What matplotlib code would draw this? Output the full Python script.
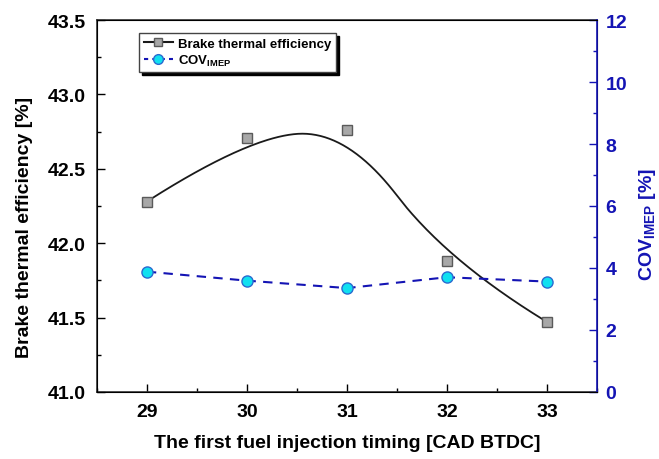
import numpy as np
import matplotlib
matplotlib.use("Agg")
import matplotlib.pyplot as plt
from matplotlib.ticker import MultipleLocator

plt.rcParams['font.family'] = ['Liberation Sans', 'DejaVu Sans']
plt.rcParams['font.weight'] = 'bold'
plt.rcParams['mathtext.fontset'] = 'custom'
plt.rcParams['mathtext.rm'] = 'Liberation Sans:bold'
plt.rcParams['mathtext.bf'] = 'Liberation Sans:bold'

# datos
timing = [29, 30, 31, 32, 33]
bte = [42.28, 42.71, 42.76, 41.88, 41.47]
cov_imep = [3.88, 3.59, 3.35, 3.70, 3.56]

azul = '#1414b4'


def bspline2(xs, ys, n=200):
    # B-spline cuadratica con nodos fijos en los extremos (como Origin)
    px = np.array(xs, dtype=float)
    py = np.array(ys, dtype=float)
    k = 2
    m = len(px)
    nodos = np.concatenate([np.zeros(k), np.arange(m - k + 1), np.full(k, m - k)]).astype(float)
    ts = np.linspace(0, m - k, n)
    ts[-1] -= 1e-9
    cx, cy = [], []
    for t in ts:
        N = np.zeros(len(nodos) - 1)
        for i in range(len(nodos) - 1):
            if nodos[i] <= t < nodos[i + 1]:
                N[i] = 1.0
        for d in range(1, k + 1):
            nuevo = np.zeros(len(nodos) - 1 - d)
            for i in range(len(nuevo)):
                a = 0.0
                b = 0.0
                if nodos[i + d] != nodos[i]:
                    a = (t - nodos[i]) / (nodos[i + d] - nodos[i]) * N[i]
                if nodos[i + d + 1] != nodos[i + 1]:
                    b = (nodos[i + d + 1] - t) / (nodos[i + d + 1] - nodos[i + 1]) * N[i + 1]
                nuevo[i] = a + b
            N = nuevo
        cx.append(np.dot(N, px))
        cy.append(np.dot(N, py))
    return np.array(cx), np.array(cy)


fig = plt.figure(figsize=(6.59, 4.60), dpi=100)
ax = fig.add_axes([0.147, 0.146, 0.759, 0.808])
ax2 = ax.twinx()

sx, sy = bspline2(timing, bte)
ax.plot(sx, sy, color='#1a1a1a', lw=1.3, zorder=2)
ax.plot(timing, bte, ls='none', marker='s', ms=7, mfc='#a8a8a8', mec='#5a5a5a', mew=1, zorder=3)

ax2.plot(timing, cov_imep, color=azul, lw=1.5, ls=(0, (4.5, 3.5)), marker='o', ms=8,
         mfc='#10e0f0', mec='#2a6ad0', mew=1)

ax.set_xlim(28.5, 33.5)
ax.set_ylim(41.0, 43.5)
ax2.set_ylim(0, 12)
ax.xaxis.set_major_locator(MultipleLocator(1))
ax.xaxis.set_minor_locator(MultipleLocator(0.5))
ax.yaxis.set_major_locator(MultipleLocator(0.5))
ax.yaxis.set_minor_locator(MultipleLocator(0.25))
ax2.yaxis.set_major_locator(MultipleLocator(2))
ax2.yaxis.set_minor_locator(MultipleLocator(1))
ax.yaxis.set_major_formatter(matplotlib.ticker.FormatStrFormatter('%.1f'))

ax.tick_params(axis='both', which='major', direction='in', length=6, width=1, labelsize=14, pad=8)
ax.tick_params(axis='both', which='minor', direction='in', length=3, width=1)
ax.tick_params(axis='x', top=False, which='both')
ax2.tick_params(axis='y', which='major', direction='in', length=6, width=1, labelsize=14,
                colors=azul, pad=6)
ax2.tick_params(axis='y', which='minor', direction='in', length=3, width=1, colors=azul)
for lab in ax.get_xticklabels() + ax.get_yticklabels() + ax2.get_yticklabels():
    lab.set_fontweight('bold')

ax2.spines['right'].set_color(azul)
ax2.spines['right'].set_linewidth(1.2)
for s in ['left', 'bottom', 'top']:
    ax.spines[s].set_color('#333333')
    ax.spines[s].set_linewidth(1.2)

ax.set_xlabel('The first fuel injection timing [CAD BTDC]', fontsize=14, fontweight='bold', labelpad=10)
ax.set_ylabel('Brake thermal efficiency [%]', fontsize=14, fontweight='bold')
ax2.set_ylabel(r'COV$_{\mathrm{IMEP}}$ [%]', fontsize=14, fontweight='bold', color=azul)
ax.yaxis.set_label_coords(-0.128, 0.444)
ax2.yaxis.set_label_coords(1.080, 0.452)

h1 = matplotlib.lines.Line2D([], [], color='#1a1a1a', lw=1.5, marker='s', ms=6,
                             mfc='#a8a8a8', mec='#5a5a5a')
h2 = matplotlib.lines.Line2D([], [], color=azul, lw=1.5, ls=(0, (2, 2)), marker='o', ms=7,
                             mfc='#10e0f0', mec='#2a6ad0')
leg = ax2.legend([h1, h2], ['Brake thermal efficiency', r'COV$_{\mathrm{IMEP}}$'],
                 loc='upper left', bbox_to_anchor=(0.084, 0.965), borderaxespad=0,
                 prop={'weight': 'bold', 'size': 9.5}, handlelength=2.2, handletextpad=0.4,
                 borderpad=0.35, labelspacing=0.2, fancybox=False, framealpha=1,
                 edgecolor='#444444', shadow={'color': 'black', 'alpha': 1})
leg.get_frame().set_linewidth(1)

fig.savefig('out.png', dpi=100)
